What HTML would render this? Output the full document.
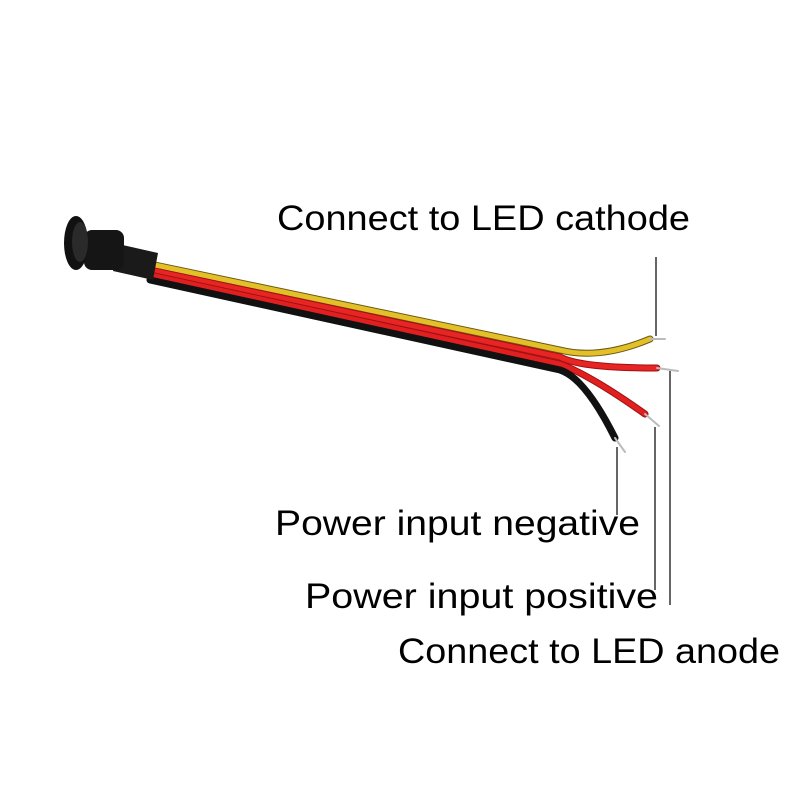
<!DOCTYPE html>
<html><head><style>
body{margin:0;background:#fff;width:800px;height:800px;overflow:hidden;}
svg{position:absolute;left:0;top:0}
</style></head><body>
<svg width="800" height="800" xmlns="http://www.w3.org/2000/svg">
<g fill="none" stroke-linecap="round">
<path d="M150 264 L560 350 Q600 360 650 339" stroke="#6b5a10" stroke-width="7"/>
<path d="M150 264 L560 350 Q600 360 650 339" stroke="#e3c02a" stroke-width="5"/>
<path d="M150 270 L560 357 Q580 368 657 368" stroke="#a01010" stroke-width="7"/>
<path d="M150 270 L560 357 Q580 368 657 368" stroke="#e82525" stroke-width="5"/>
<path d="M150 275 L560 364 Q590 375 645 414" stroke="#a01010" stroke-width="7"/>
<path d="M150 275 L560 364 Q590 375 645 414" stroke="#e02020" stroke-width="5"/>
<path d="M150 280 L560 370 Q585 378 615 438" stroke="#111" stroke-width="7"/>
<path d="M650 339 L665 339" stroke="#bbb" stroke-width="2"/>
<path d="M657 368 L678 371" stroke="#bbb" stroke-width="2"/>
<path d="M645 414 L659 426" stroke="#bbb" stroke-width="2"/>
<path d="M615 438 L625 452" stroke="#bbb" stroke-width="2"/>
</g>
<polygon points="118,244 158,253 153,280 113,271" fill="#1a1a1a"/>
<rect x="84" y="230" width="40" height="40" rx="8" fill="#151515"/>
<ellipse cx="76" cy="243" rx="12" ry="27" fill="#111"/>
<ellipse cx="80" cy="242" rx="8" ry="20" fill="#2a2a2a"/>
<g stroke="#000" stroke-width="1.2">
<line x1="656" y1="257" x2="656" y2="336"/>
<line x1="670" y1="371" x2="670" y2="605"/>
<line x1="655" y1="427" x2="655" y2="590"/>
<line x1="617" y1="447" x2="617" y2="515"/>
</g>
<g font-family="Liberation Sans, sans-serif" font-size="35" fill="#000">
<text x="277" y="230" textLength="413" lengthAdjust="spacingAndGlyphs">Connect to LED cathode</text>
<text x="275" y="535" textLength="365" lengthAdjust="spacingAndGlyphs">Power input negative</text>
<text x="305" y="608" textLength="353" lengthAdjust="spacingAndGlyphs">Power input positive</text>
<text x="398" y="663" textLength="382" lengthAdjust="spacingAndGlyphs">Connect to LED anode</text>
</g>
</svg>
</body></html>
